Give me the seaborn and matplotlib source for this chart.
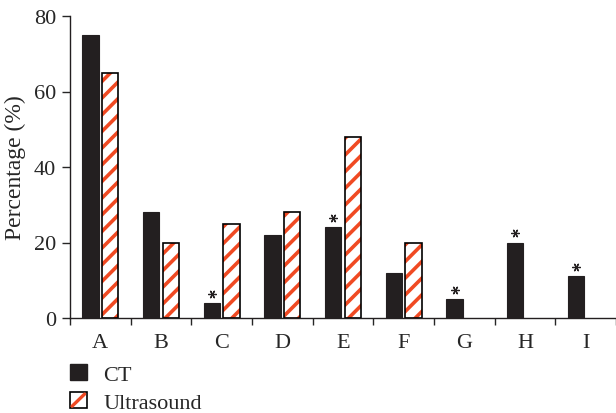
import matplotlib
matplotlib.use("Agg")
import matplotlib.pyplot as plt
import seaborn as sns
import pandas as pd
from matplotlib.patches import Patch, Rectangle
from matplotlib.lines import Line2D
from matplotlib.legend_handler import HandlerPatch

categories = ["A", "B", "C", "D", "E", "F", "G", "H", "I"]
ct_values = [75, 28, 4, 22, 24, 12, 5, 20, 11]
us_values = [65, 20, 25, 28, 48, 20, 0, 0, 0]
significant = ["C", "E", "G", "H", "I"]
series_names = ["CT", "Ultrasound"]

hatch_color = "#f04a23"
bar_color = "#231f20"

df = pd.DataFrame({
    "category": categories * 2,
    "value": ct_values + us_values,
    "method": [series_names[0]] * len(categories) + [series_names[1]] * len(categories),
})


class HatchBoxHandler(HandlerPatch):
    """White box with black edge and one red diagonal, like the print legend."""
    def create_artists(self, legend, orig_handle, xdescent, ydescent,
                       width, height, fontsize, trans):
        box = Rectangle((-xdescent, -ydescent), width, height, facecolor="white",
                        edgecolor="black", linewidth=1.2, transform=trans)
        diag = Line2D([-xdescent + 1.5, -xdescent + width - 1.5],
                      [-ydescent + 1.5, -ydescent + height - 1.5],
                      color=hatch_color, linewidth=2.4, transform=trans)
        return [box, diag]


sns.set_style("ticks")
plt.rcParams["font.family"] = ["Liberation Serif", "DejaVu Serif"]
plt.rcParams["hatch.linewidth"] = 2.6
plt.rcParams["hatch.color"] = hatch_color

fig = plt.figure(figsize=(6.16, 4.14), dpi=100)
ax = fig.add_axes([70 / 616, 1 - 319 / 414, 1 - 70 / 616, (319 - 17) / 414])

sns.barplot(data=df, x="category", y="value", hue="method", order=categories,
            hue_order=series_names, palette=[bar_color, "white"], width=0.64,
            saturation=1, ax=ax, legend=False)

# narrow the bars a little so a gap shows between each pair
for cont in ax.containers:
    for bar in cont:
        w = bar.get_width()
        bar.set_x(bar.get_x() + 0.025)
        bar.set_width(w - 0.05)

for bar in ax.containers[0]:
    bar.set_edgecolor(bar_color)
    bar.set_linewidth(0.8)
for bar in ax.containers[1]:
    bar.set_facecolor("white")
    bar.set_edgecolor(hatch_color)
    bar.set_hatch("//")
    bar.set_linewidth(0)
    if bar.get_height() > 0:
        # black outline drawn on top of hatch
        ax.add_patch(plt.Rectangle((bar.get_x(), 0), bar.get_width(), bar.get_height(),
                                   fill=False, edgecolor="black", linewidth=1.2))

# significance asterisks above the CT bars
star_x = []
star_y = []
for cat, bar in zip(categories, ax.containers[0]):
    if cat in significant:
        star_x.append(bar.get_x() + bar.get_width() / 2)
        star_y.append(bar.get_height() + 2.4)
ax.plot(star_x, star_y, linestyle="none", marker=(6, 2, 90), markersize=6,
        markeredgewidth=0.9, color="#231f20", clip_on=False)

ax.set_ylim(0, 80)
ax.set_xlim(-0.5, -0.5 + (616 - 70) / 61.3)
ax.set_yticks([0, 20, 40, 60, 80])
ax.set_xticks(range(len(categories)))
ax.set_xticklabels(categories)
ax.set_xticks([i - 0.5 for i in range(len(categories) + 1)], minor=True)
ax.tick_params(axis="x", which="major", length=0, pad=11, labelsize=16)
ax.tick_params(axis="x", which="minor", length=5, width=1, direction="out")
ax.tick_params(axis="y", length=6, width=1, labelsize=16, pad=4)
ax.set_xlabel("")
ax.set_ylabel("Percentage (%)", fontsize=17, labelpad=6)
sns.despine(ax=ax, top=True, right=True)
for s in ["left", "bottom"]:
    ax.spines[s].set_linewidth(1)
    ax.spines[s].set_color("#231f20")

ct_handle = Patch(facecolor=bar_color, edgecolor=bar_color)
us_handle = Patch(facecolor="white", edgecolor="black")
fig.legend(handles=[ct_handle, us_handle], labels=series_names,
           handler_map={us_handle: HatchBoxHandler()},
           loc="upper left", bbox_to_anchor=(70 / 616, 1 - 365 / 414),
           frameon=False, fontsize=16, handlelength=0.75, handleheight=0.75,
           handletextpad=0.75, labelspacing=0.32, borderpad=0, borderaxespad=0)

fig.savefig("out.png", dpi=100)
